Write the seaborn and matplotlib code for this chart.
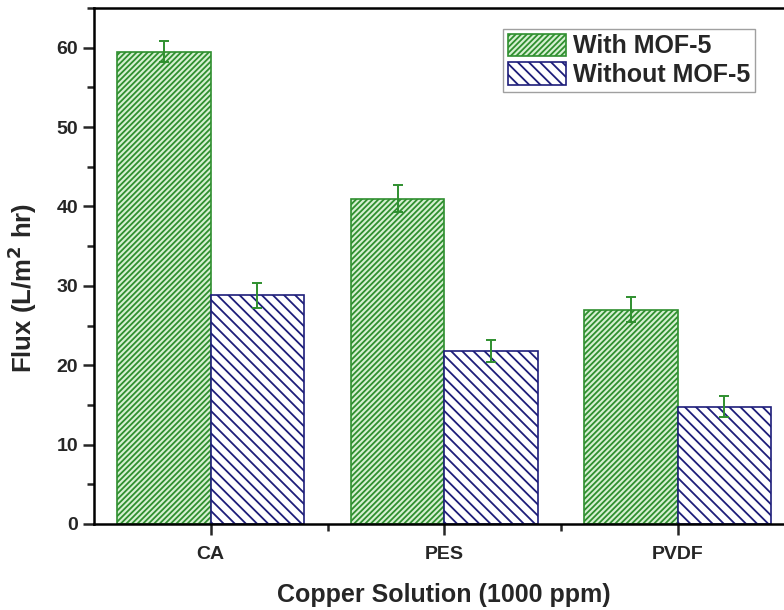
import numpy as np
import pandas as pd
import matplotlib
matplotlib.use("Agg")
import matplotlib.pyplot as plt
import seaborn as sns
from matplotlib.ticker import MultipleLocator, FixedLocator
from matplotlib.patches import Patch

membranes = ["CA", "PES", "PVDF"]
conditions = ["With MOF-5", "Without MOF-5"]
flux_with = [59.5, 41.0, 27.0]
flux_without = [28.8, 21.8, 14.8]
err_with = [1.3, 1.7, 1.6]
err_without = [1.6, 1.4, 1.3]

sns.set_theme(style="ticks")
plt.rcParams["font.family"] = ["Liberation Sans", "DejaVu Sans"]
plt.rcParams["font.weight"] = "bold"
plt.rcParams["hatch.linewidth"] = 1.3

df = pd.DataFrame({
    "membrane": membranes * 2,
    "condition": [conditions[0]] * 3 + [conditions[1]] * 3,
    "flux": flux_with + flux_without,
})

fig = plt.figure(figsize=(7.84, 6.10), dpi=100)
ax = fig.add_axes([94 / 784, 86 / 610, 700.5 / 784, 516 / 610])

face = {conditions[0]: "#d6f0d2", conditions[1]: "#ffffff"}
edge = {conditions[0]: "#2f8f2f", conditions[1]: "#1e1e7a"}
hatch = {conditions[0]: "//////", conditions[1]: "\\\\\\"}

sns.barplot(data=df, x="membrane", y="flux", hue="condition", order=membranes,
            hue_order=conditions, width=0.8, errorbar=None, ax=ax, legend=False)

errs = {conditions[0]: err_with, conditions[1]: err_without}
for cont, cond in zip(ax.containers, conditions):
    xs, ys = [], []
    for p in cont.patches:
        p.set_facecolor(face[cond])
        p.set_edgecolor(edge[cond])
        p.set_hatch(hatch[cond])
        p.set_linewidth(1.2)
        xs.append(p.get_x() + p.get_width() / 2)
        ys.append(p.get_height())
    ax.errorbar(xs, ys, yerr=errs[cond], fmt="none", ecolor="#2f8f2f",
                elinewidth=1.4, capsize=3.5, capthick=1.4, zorder=5)

ax.set_xlim(-0.5, 2.5)
ax.set_ylim(0, 65)
ax.yaxis.set_major_locator(MultipleLocator(10))
ax.yaxis.set_minor_locator(MultipleLocator(5))
ax.xaxis.set_minor_locator(FixedLocator([0.5, 1.5]))
ax.tick_params(axis="both", which="major", direction="out", length=8, width=1.8,
               labelsize=14)
ax.tick_params(axis="x", which="major", pad=8)
ax.tick_params(axis="both", which="minor", direction="out", length=5, width=1.8)
for lab in ax.get_xticklabels() + ax.get_yticklabels():
    lab.set_fontweight("bold")

for s in ["left", "bottom", "top", "right"]:
    ax.spines[s].set_visible(True)
    ax.spines[s].set_linewidth(1.8)
    ax.spines[s].set_color("black")

ax.set_xlabel("Copper Solution (1000 ppm)", fontsize=18, fontweight="bold", labelpad=14)
ax.set_ylabel("Flux (L/m$^\\mathbf{2}$ hr)", fontsize=18.5, fontweight="bold")
ax.yaxis.set_label_coords(-0.078, 0.457)

handles = [Patch(facecolor=face[c], edgecolor=edge[c], hatch=hatch[c], linewidth=1.2)
           for c in conditions]
leg = ax.legend(handles, conditions, loc="upper left", bbox_to_anchor=(0.584, 0.96),
                prop={"size": 18, "weight": "bold"}, frameon=True, fancybox=False,
                edgecolor="#888888", handlelength=2.3, handleheight=1.0,
                handletextpad=0.3, borderpad=0.2, labelspacing=0.15,
                borderaxespad=0)
leg.get_frame().set_linewidth(1.0)

fig.savefig("out.png", dpi=100)
